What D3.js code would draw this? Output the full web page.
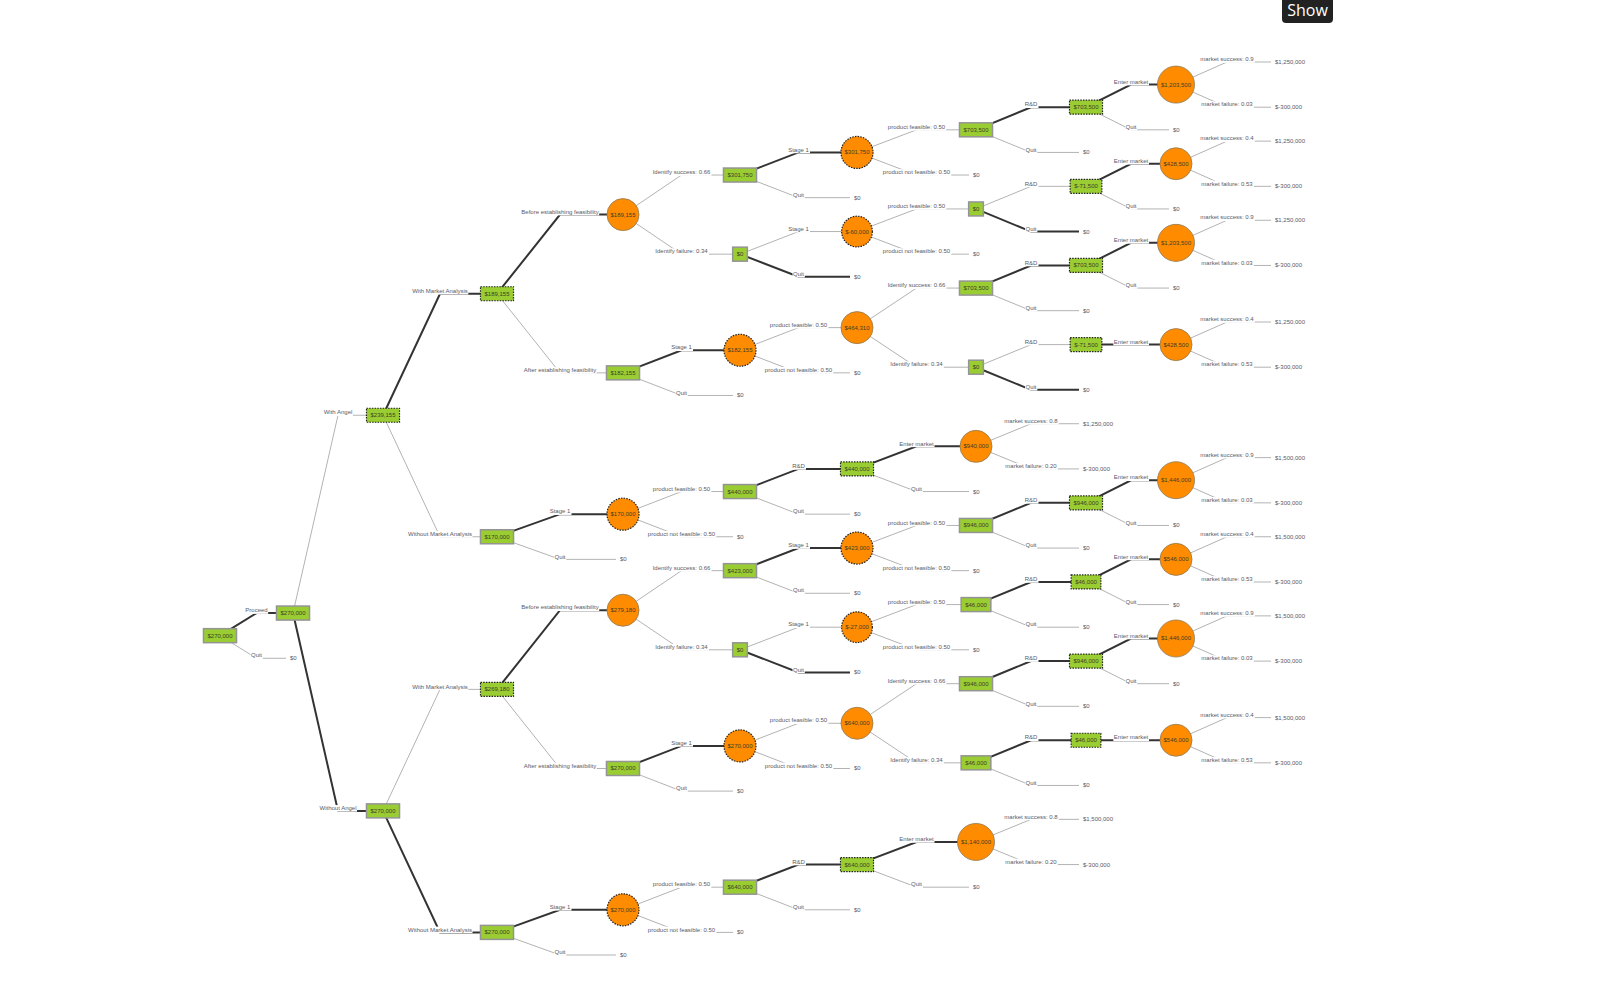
<!DOCTYPE html>
<html>
<head>
<meta charset="utf-8">
<script src="https://cdn.jsdelivr.net/npm/d3@7"></script>
<style>
body{margin:0;background:#fff;}
svg{display:block;font-family:"Liberation Sans",Arial,sans-serif;}
.edge{fill:none;}
</style>
</head>
<body>
<svg id="tree"></svg>
<script>
// rows: [id, parent, branch label, kind (D decision / C chance / T terminal), value, costly branch]
var trunkRows=[
  ["r",null,"","D",270000,0],
  ["p","r","Proceed","D",270000,0],
  ["rq","r","Quit","T",0,0],
  ["a","p","With Angel","D",239155,1],
  ["n","p","Without Angel","D",270000,0]
];
var angelMaRows=[
  ["a1","a","With Market Analysis","D",189155,1],
  ["a1b","a1","Before establishing feasibility","C",189155,0],
  ["a1bs","a1b","Identify success: 0.66","D",301750,0],
  ["a1bs1","a1bs","Stage 1","C",301750,1],
  ["a1bs1f","a1bs1","product feasible: 0.50","D",703500,0],
  ["a1bs1fr","a1bs1f","R&D","D",703500,1],
  ["a1bs1fre","a1bs1fr","Enter market","C",1203500,0],
  ["a1bs1fres","a1bs1fre","market success: 0.9","T",1250000,0],
  ["a1bs1fref","a1bs1fre","market failure: 0.03","T",-300000,0],
  ["a1bs1frq","a1bs1fr","Quit","T",0,0],
  ["a1bs1fq","a1bs1f","Quit","T",0,0],
  ["a1bs1n","a1bs1","product not feasible: 0.50","T",0,0],
  ["a1bsq","a1bs","Quit","T",0,0],
  ["a1bf","a1b","Identify failure: 0.34","D",0,0],
  ["a1bf1","a1bf","Stage 1","C",-60000,1],
  ["a1bf1f","a1bf1","product feasible: 0.50","D",0,0],
  ["a1bf1fr","a1bf1f","R&D","D",-71500,1],
  ["a1bf1fre","a1bf1fr","Enter market","C",428500,0],
  ["a1bf1fres","a1bf1fre","market success: 0.4","T",1250000,0],
  ["a1bf1fref","a1bf1fre","market failure: 0.53","T",-300000,0],
  ["a1bf1frq","a1bf1fr","Quit","T",0,0],
  ["a1bf1fq","a1bf1f","Quit","T",0,0],
  ["a1bf1n","a1bf1","product not feasible: 0.50","T",0,0],
  ["a1bfq","a1bf","Quit","T",0,0],
  ["a1a","a1","After establishing feasibility","D",182155,0],
  ["a1a1","a1a","Stage 1","C",182155,1],
  ["a1a1f","a1a1","product feasible: 0.50","C",464310,0],
  ["a1a1fs","a1a1f","Identify success: 0.66","D",703500,0],
  ["a1a1fsr","a1a1fs","R&D","D",703500,1],
  ["a1a1fsre","a1a1fsr","Enter market","C",1203500,0],
  ["a1a1fsres","a1a1fsre","market success: 0.9","T",1250000,0],
  ["a1a1fsref","a1a1fsre","market failure: 0.03","T",-300000,0],
  ["a1a1fsrq","a1a1fsr","Quit","T",0,0],
  ["a1a1fsq","a1a1fs","Quit","T",0,0],
  ["a1a1ff","a1a1f","Identify failure: 0.34","D",0,0],
  ["a1a1ffr","a1a1ff","R&D","D",-71500,1],
  ["a1a1ffre","a1a1ffr","Enter market","C",428500,0],
  ["a1a1ffres","a1a1ffre","market success: 0.4","T",1250000,0],
  ["a1a1ffref","a1a1ffre","market failure: 0.53","T",-300000,0],
  ["a1a1ffq","a1a1ff","Quit","T",0,0],
  ["a1a1n","a1a1","product not feasible: 0.50","T",0,0],
  ["a1aq","a1a","Quit","T",0,0]
];
var angelNoMaRows=[
  ["a2","a","Without Market Analysis","D",170000,0],
  ["a21","a2","Stage 1","C",170000,1],
  ["a21f","a21","product feasible: 0.50","D",440000,0],
  ["a21fr","a21f","R&D","D",440000,1],
  ["a21fre","a21fr","Enter market","C",940000,0],
  ["a21fres","a21fre","market success: 0.8","T",1250000,0],
  ["a21fref","a21fre","market failure: 0.20","T",-300000,0],
  ["a21frq","a21fr","Quit","T",0,0],
  ["a21fq","a21f","Quit","T",0,0],
  ["a21n","a21","product not feasible: 0.50","T",0,0],
  ["a2q","a2","Quit","T",0,0]
];
var soloMaRows=[
  ["n1","n","With Market Analysis","D",269180,1],
  ["n1b","n1","Before establishing feasibility","C",279180,0],
  ["n1bs","n1b","Identify success: 0.66","D",423000,0],
  ["n1bs1","n1bs","Stage 1","C",423000,1],
  ["n1bs1f","n1bs1","product feasible: 0.50","D",946000,0],
  ["n1bs1fr","n1bs1f","R&D","D",946000,1],
  ["n1bs1fre","n1bs1fr","Enter market","C",1446000,0],
  ["n1bs1fres","n1bs1fre","market success: 0.9","T",1500000,0],
  ["n1bs1fref","n1bs1fre","market failure: 0.03","T",-300000,0],
  ["n1bs1frq","n1bs1fr","Quit","T",0,0],
  ["n1bs1fq","n1bs1f","Quit","T",0,0],
  ["n1bs1n","n1bs1","product not feasible: 0.50","T",0,0],
  ["n1bsq","n1bs","Quit","T",0,0],
  ["n1bf","n1b","Identify failure: 0.34","D",0,0],
  ["n1bf1","n1bf","Stage 1","C",-27000,1],
  ["n1bf1f","n1bf1","product feasible: 0.50","D",46000,0],
  ["n1bf1fr","n1bf1f","R&D","D",46000,1],
  ["n1bf1fre","n1bf1fr","Enter market","C",546000,0],
  ["n1bf1fres","n1bf1fre","market success: 0.4","T",1500000,0],
  ["n1bf1fref","n1bf1fre","market failure: 0.53","T",-300000,0],
  ["n1bf1frq","n1bf1fr","Quit","T",0,0],
  ["n1bf1fq","n1bf1f","Quit","T",0,0],
  ["n1bf1n","n1bf1","product not feasible: 0.50","T",0,0],
  ["n1bfq","n1bf","Quit","T",0,0],
  ["n1a","n1","After establishing feasibility","D",270000,0],
  ["n1a1","n1a","Stage 1","C",270000,1],
  ["n1a1f","n1a1","product feasible: 0.50","C",640000,0],
  ["n1a1fs","n1a1f","Identify success: 0.66","D",946000,0],
  ["n1a1fsr","n1a1fs","R&D","D",946000,1],
  ["n1a1fsre","n1a1fsr","Enter market","C",1446000,0],
  ["n1a1fsres","n1a1fsre","market success: 0.9","T",1500000,0],
  ["n1a1fsref","n1a1fsre","market failure: 0.03","T",-300000,0],
  ["n1a1fsrq","n1a1fsr","Quit","T",0,0],
  ["n1a1fsq","n1a1fs","Quit","T",0,0],
  ["n1a1ff","n1a1f","Identify failure: 0.34","D",46000,0],
  ["n1a1ffr","n1a1ff","R&D","D",46000,1],
  ["n1a1ffre","n1a1ffr","Enter market","C",546000,0],
  ["n1a1ffres","n1a1ffre","market success: 0.4","T",1500000,0],
  ["n1a1ffref","n1a1ffre","market failure: 0.53","T",-300000,0],
  ["n1a1ffq","n1a1ff","Quit","T",0,0],
  ["n1a1n","n1a1","product not feasible: 0.50","T",0,0],
  ["n1aq","n1a","Quit","T",0,0]
];
var soloNoMaRows=[
  ["n2","n","Without Market Analysis","D",270000,0],
  ["n21","n2","Stage 1","C",270000,1],
  ["n21f","n21","product feasible: 0.50","D",640000,0],
  ["n21fr","n21f","R&D","D",640000,1],
  ["n21fre","n21fr","Enter market","C",1140000,0],
  ["n21fres","n21fre","market success: 0.8","T",1500000,0],
  ["n21fref","n21fre","market failure: 0.20","T",-300000,0],
  ["n21frq","n21fr","Quit","T",0,0],
  ["n21fq","n21f","Quit","T",0,0],
  ["n21n","n21","product not feasible: 0.50","T",0,0],
  ["n2q","n2","Quit","T",0,0]
];

var w=1617;
var h=982;
var columns=[220,293,383,497,623,740,857,976,1086,1176,1278];
var top_=62, bottom_=955;
var fs=6;

var rows=trunkRows.concat(angelMaRows,angelNoMaRows,soloMaRows,soloNoMaRows);
var root=d3.stratify()
           .id(function(d){return d[0];})
           .parentId(function(d){return d[1];})(rows);
d3.tree()
  .nodeSize([1,1])
  .separation(function(a,b){return a.parent===b.parent?1:0.75;})(root);
var nodes=root.descendants();

var xScale=d3.scaleLinear().domain(d3.range(columns.length)).range(columns);
var yScale=d3.scaleLinear()
             .domain(d3.extent(nodes,function(d){return d.x;}))
             .range([top_,bottom_]);
var money=d3.formatLocale({decimal:".",thousands:",",grouping:[3],currency:["$",""],minus:"-"}).format(",");
function valueText(d){return "$"+money(d.data[4]);}
function X(d){return xScale(d.depth);}
function Y(d){return yScale(d.x);}
function best(d){
  if(!d.parent||d.parent.data[3]!=="D") return false;
  return d.data[4]===d3.max(d.parent.children,function(c){return c.data[4];});
}

var svg=d3.select("#tree").attr("width",w).attr("height",h);
var links=nodes.filter(function(d){return d.parent;});

// edges
svg.append("g").selectAll("path")
   .data(links)
   .enter()
   .append("path")
   .classed("edge",true)
   .attr("d",function(d){
     var mx=(X(d.parent)+X(d))/2;
     var end=d.data[3]==="T"?X(d)-7:X(d);
     return "M"+X(d.parent)+","+Y(d.parent)+"L"+mx+","+Y(d)+"L"+end+","+Y(d);
   })
   .attr("stroke",function(d){return best(d)?"#333":"#b3b3b3";})
   .attr("stroke-width",function(d){return best(d)?2:1;});

// branch labels
var lab=svg.append("g").selectAll("g")
   .data(links)
   .enter()
   .append("g");
lab.append("text")
   .attr("x",function(d){return (X(d.parent)+X(d))/2;})
   .attr("y",function(d){return Y(d)-0.8;})
   .attr("text-anchor","middle")
   .attr("font-size",fs)
   .attr("fill","#5a5a66")
   .text(function(d){return d.data[2];});
lab.each(function(){
  var g=d3.select(this);
  var b=g.select("text").node().getBBox();
  g.insert("rect","text")
   .attr("x",b.x-0.5).attr("y",b.y)
   .attr("width",b.width+1).attr("height",b.height+0.6)
   .attr("fill","#fff");
});

// terminal payoffs
svg.append("g").selectAll("text")
   .data(nodes.filter(function(d){return d.data[3]==="T";}))
   .enter()
   .append("text")
   .attr("x",function(d){return X(d)-3;})
   .attr("y",function(d){return Y(d)+2;})
   .attr("font-size",fs)
   .attr("fill","#5a5a66")
   .text(valueText);

// decision and chance nodes
var nd=svg.append("g").selectAll("g")
   .data(nodes.filter(function(d){return d.data[3]!=="T";}))
   .enter()
   .append("g")
   .attr("transform",function(d){return "translate("+X(d)+","+Y(d)+")";});
nd.append("text")
   .attr("text-anchor","middle")
   .attr("y",2)
   .attr("font-size",fs)
   .attr("fill","#3d3d2a")
   .text(valueText);
nd.each(function(d){
  var g=d3.select(this);
  var tw=g.select("text").node().getComputedTextLength();
  var shape;
  if(d.data[3]==="D"){
    shape=g.insert("rect","text")
           .attr("x",-(tw+8)/2).attr("y",-7)
           .attr("width",tw+8).attr("height",14)
           .attr("fill","#9acd32");
  }else{
    shape=g.insert("circle","text")
           .attr("r",tw/2+3.5)
           .attr("fill","#ff8c00");
  }
  if(d.data[5]){
    shape.attr("stroke","#222").attr("stroke-width",1.2).attr("stroke-dasharray","1.5,1.2");
  }else if(d.data[3]==="D"){
    shape.attr("stroke","#949494").attr("stroke-width",1.5);
  }else{
    shape.attr("stroke","#8f7a55").attr("stroke-width",0.8);
  }
});

// show button
var btn=svg.append("g").attr("transform","translate(1282,0)");
btn.append("rect").attr("x",0).attr("y",-5).attr("width",51).attr("height",28).attr("rx",4).attr("fill","#222");
btn.append("text").attr("x",25.5).attr("y",16).attr("text-anchor","middle")
   .attr("font-size",16).attr("font-family","'Open Sans',sans-serif").attr("fill","#fff").text("Show");
</script>
</body>
</html>
